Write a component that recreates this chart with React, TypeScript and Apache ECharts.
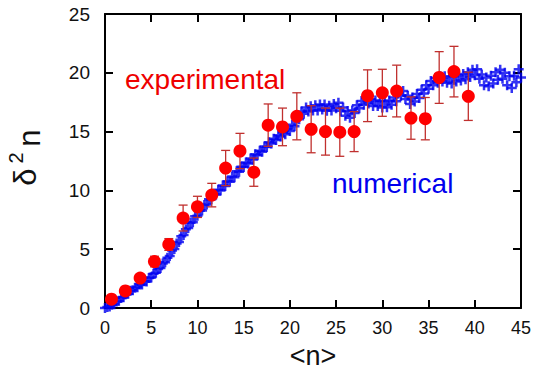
import React, { useEffect, useRef } from "react";
import * as echarts from "echarts";

// Experimental points (red circles) with error bars
const expX = [0.7, 2.2, 3.8, 5.35, 6.9, 8.45, 10.0, 11.55, 13.05, 14.6, 16.1, 17.65, 19.2, 20.75, 22.3, 23.85, 25.4, 26.95, 28.4, 30.0, 31.55, 33.1, 34.65, 36.15, 37.75, 39.3];
const expY = [0.75, 1.45, 2.55, 3.95, 5.4, 7.65, 8.6, 9.6, 11.9, 13.35, 11.55, 15.55, 15.4, 16.3, 15.2, 15.0, 14.95, 15.0, 18.05, 18.3, 18.45, 16.15, 16.1, 19.6, 20.1, 18.0];
const expErr = [0.2, 0.2, 0.3, 0.45, 0.5, 1.1, 0.9, 1.0, 1.5, 1.5, 1.2, 1.8, 1.6, 2.0, 2.0, 2.0, 2.05, 1.7, 2.2, 2.0, 2.2, 1.8, 1.8, 2.2, 2.15, 2.05];

// Numerical result (blue crosses)
const numX = [
  0, 0.25, 0.5, 0.75, 1, 1.25, 1.5, 1.75, 2, 2.25, 2.5, 2.75, 3, 3.25, 3.5, 3.75,
  4, 4.25, 4.5, 4.75, 5, 5.25, 5.5, 5.75, 6, 6.25, 6.5, 6.75, 7, 7.25, 7.5, 7.75,
  8, 8.25, 8.5, 8.75, 9, 9.25, 9.5, 9.75, 10, 10.25, 10.5, 10.75, 11, 11.25, 11.5, 11.75,
  12, 12.25, 12.5, 12.75, 13, 13.25, 13.5, 13.75, 14, 14.25, 14.5, 14.75, 15, 15.25, 15.5, 15.75,
  16, 16.25, 16.5, 16.75, 17, 17.25, 17.5, 17.75, 18, 18.25, 18.5, 18.75, 19, 19.25, 19.5, 19.75,
  20, 20.25, 20.5, 20.75, 21, 21.25, 21.5, 21.75, 22, 22.25, 22.5, 22.75, 23, 23.25, 23.5, 23.75,
  24, 24.25, 24.5, 24.75, 25, 25.25, 25.5, 25.75, 26, 26.25, 26.5, 26.75, 27, 27.25, 27.5, 27.75,
  28, 28.25, 28.5, 28.75, 29, 29.25, 29.5, 29.75, 30, 30.25, 30.5, 30.75, 31, 31.25, 31.5, 31.75,
  32, 32.25, 32.5, 32.75, 33, 33.25, 33.5, 33.75, 34, 34.25, 34.5, 34.75, 35, 35.25, 35.5, 35.75,
  36, 36.25, 36.5, 36.75, 37, 37.25, 37.5, 37.75, 38, 38.25, 38.5, 38.75, 39, 39.25, 39.5, 39.75,
  40, 40.25, 40.5, 40.75, 41, 41.25, 41.5, 41.75, 42, 42.25, 42.5, 42.75, 43, 43.25, 43.5, 43.75,
  44, 44.25, 44.5, 44.75, 45,
];
const numY = [
  0.0, 0.08, 0.12, 0.28, 0.32, 0.55, 0.62, 0.86, 0.92, 1.16, 1.21, 1.46, 1.5, 1.72, 1.76, 2.0,
  2.0, 2.27, 2.25, 2.56, 2.6, 2.92, 3.0, 3.32, 3.4, 3.78, 3.88, 4.28, 4.42, 4.88, 5.02, 5.48,
  5.62, 6.1, 6.2, 6.7, 6.8, 7.25, 7.3, 7.8, 7.85, 8.28, 8.3, 8.76, 8.8, 9.25, 9.25, 9.66,
  9.65, 10.06, 10.0, 10.42, 10.38, 10.78, 10.74, 11.18, 11.12, 11.62, 11.58, 12.02, 11.98, 12.38, 12.28, 12.72,
  12.62, 13.08, 12.98, 13.38, 13.28, 13.74, 13.68, 14.1, 13.98, 14.4, 14.28, 14.7, 14.58, 14.95, 14.78, 15.2,
  15.05, 15.58, 15.45, 16.12, 16.05, 16.7, 16.52, 17.05, 16.7, 17.15, 16.8, 17.25, 16.8, 17.3, 16.88, 17.3,
  16.78, 17.2, 16.8, 17.35, 16.98, 17.45, 16.78, 17.05, 16.35, 16.75, 16.18, 16.8, 16.58, 17.25, 16.98, 17.6,
  17.28, 17.85, 17.38, 17.75, 17.18, 17.65, 17.18, 17.6, 17.05, 17.55, 17.08, 17.65, 17.28, 17.9, 17.58, 18.3,
  18.05, 18.45, 17.78, 18.05, 17.35, 17.9, 17.55, 18.2, 17.85, 18.55, 18.25, 18.95, 18.65, 19.3, 18.95, 19.55,
  19.15, 19.7, 19.25, 19.7, 19.15, 19.6, 19.1, 19.7, 19.25, 19.8, 19.35, 19.9, 19.45, 20.05, 19.65, 20.25,
  19.8, 20.3, 19.5, 19.85, 18.95, 19.6, 18.85, 19.75, 19.1, 20.05, 19.4, 20.25, 19.5, 20.0, 18.95, 19.7,
  18.7, 19.75, 19.2, 20.3, 19.6,
];

const xTicks = { min: 0, max: 45, interval: 5 };
const yTicks = { min: 0, max: 25, interval: 5 };

const FONT = "'Liberation Sans', Arial, Helvetica, sans-serif";
const PLUS = "path://M3.75,0h2.5v3.75h3.75v2.5h-3.75v3.75h-2.5v-3.75h-3.75v-2.5h3.75z";

export default function App() {
  const ref = useRef<HTMLDivElement>(null);
  useEffect(() => {
    if (!ref.current) return;
    const chart = echarts.init(ref.current, undefined, { renderer: "svg" });
    const axisLine = { show: true, onZero: false, lineStyle: { color: "#000", width: 2 } };
    const axisTick = { show: true, inside: true, length: 8, lineStyle: { color: "#000", width: 2 } };
    const errStyle = { stroke: "#c0302e", lineWidth: 1.3 };
    chart.setOption({
      animation: false,
      backgroundColor: "#fff",
      grid: { left: 105, right: 18, top: 14, bottom: 66 },
      xAxis: [
        {
          type: "value", ...xTicks, position: "bottom",
          axisLine, axisTick, splitLine: { show: false },
          axisLabel: { fontSize: 18, color: "#111", margin: 11, fontFamily: FONT },
          name: "<n>", nameLocation: "middle", nameGap: 34,
          nameTextStyle: { fontSize: 27, color: "#111", fontFamily: FONT },
        },
        {
          type: "value", ...xTicks, position: "top",
          axisLine, axisTick, splitLine: { show: false }, axisLabel: { show: false },
        },
      ],
      yAxis: [
        {
          type: "value", ...yTicks, position: "left",
          axisLine, axisTick, splitLine: { show: false },
          axisLabel: { fontSize: 19, color: "#111", margin: 15, fontFamily: FONT },
        },
        {
          type: "value", ...yTicks, position: "right",
          axisLine, axisTick, splitLine: { show: false }, axisLabel: { show: false },
        },
      ],
      graphic: [
        { type: "text", x: 25, y: 177, rotation: Math.PI / 2, style: { text: "δ", fill: "#111", font: `31px ${FONT}`, align: "center", verticalAlign: "middle" } },
        { type: "text", x: 16, y: 158, rotation: Math.PI / 2, style: { text: "2", fill: "#111", font: `20px ${FONT}`, align: "center", verticalAlign: "middle" } },
        { type: "text", x: 29, y: 138, rotation: Math.PI / 2, style: { text: "n", fill: "#111", font: `31px ${FONT}`, align: "center", verticalAlign: "middle" } },
        { type: "text", x: 125, y: 79, style: { text: "experimental", fill: "#ee0000", font: `28px ${FONT}`, align: "left", verticalAlign: "middle" } },
        { type: "text", x: 332, y: 183, style: { text: "numerical", fill: "#0000ee", font: `28px ${FONT}`, align: "left", verticalAlign: "middle" } },
      ],
      series: [
        {
          type: "scatter", name: "numerical", z: 2,
          symbol: PLUS, symbolSize: 10,
          itemStyle: { color: "#0000f0" },
          data: numX.map((x, i) => [x, numY[i]]),
        },
        {
          type: "custom", name: "errors", z: 3,
          renderItem: (params: any, api: any) => {
            const x = api.value(0), y = api.value(1), e = api.value(2);
            const top = api.coord([x, y + e]);
            const bot = api.coord([x, y - e]);
            const w = 4.5;
            return {
              type: "group",
              children: [
                { type: "line", shape: { x1: top[0], y1: top[1], x2: bot[0], y2: bot[1] }, style: errStyle },
                { type: "line", shape: { x1: top[0] - w, y1: top[1], x2: top[0] + w, y2: top[1] }, style: errStyle },
                { type: "line", shape: { x1: bot[0] - w, y1: bot[1], x2: bot[0] + w, y2: bot[1] }, style: errStyle },
              ],
            };
          },
          encode: { x: 0, y: 1 },
          data: expX.map((x, i) => [x, expY[i], expErr[i]]),
        },
        {
          type: "scatter", name: "experimental", z: 4,
          symbol: "circle", symbolSize: 13,
          itemStyle: { color: "#ff0000", opacity: 1 },
          data: expX.map((x, i) => [x, expY[i]]),
        },
      ],
    });
    return () => chart.dispose();
  }, []);
  return <div ref={ref} style={{ width: 539, height: 374, position: "absolute", left: 0, top: 0 }} />;
}
